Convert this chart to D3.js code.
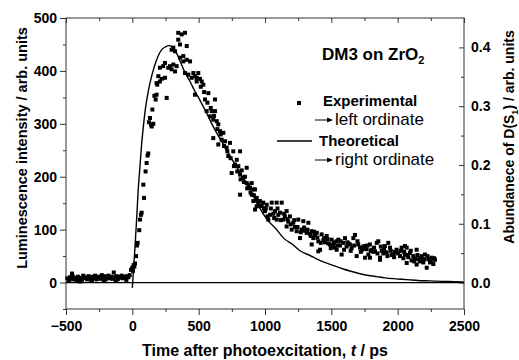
<!DOCTYPE html>
<html>
<head>
<meta charset="utf-8">
<script src="https://cdn.jsdelivr.net/npm/d3@7"></script>
<style>
  body { margin: 0; background: #fff; }
  svg { display: block; font-family: 'Liberation Sans', Arial, sans-serif; }
</style>
</head>
<body>
<div id="chart"></div>
<script>
// experimental luminescence [t (ps), intensity] -> left ordinate
const experimental = [
  [-490, 8], [-480, 5], [-475, 3], [-470, 10], [-460, 7], [-455, 17], [-450, 12], [-440, 6], [-430, 9], [-420, 4],
  [-410, 11], [-400, 7], [-395, 2], [-390, 9], [-380, 5], [-370, 13], [-360, 8], [-350, 10], [-340, 6], [-330, 12],
  [-320, 9], [-310, 4], [-305, 3], [-300, 11], [-290, 8], [-280, 13], [-270, 6], [-260, 9], [-250, 11], [-240, 7],
  [-230, 14], [-220, 9], [-215, 4], [-210, 12], [-200, 6], [-190, 10], [-180, 13], [-170, 8], [-160, 11], [-150, 7],
  [-140, 19], [-130, 10], [-125, 3], [-120, 12], [-110, 6], [-100, 11], [-90, 9], [-80, 13], [-70, 8], [-60, 11],
  [-50, 9], [-45, 5], [-40, 12], [-30, 10], [-20, 14], [-10, 24],
  [0, 28], [5, 22], [10, 33], [15, 30], [20, 36], [28, 50], [35, 70], [40, 75], [52, 99], [58, 119],
  [65, 128], [70, 132], [83, 185], [88, 160], [100, 210], [108, 226], [115, 240], [120, 244], [125, 303], [133, 311],
  [141, 298], [146, 295], [151, 327], [158, 300], [166, 353], [176, 346], [183, 355], [183, 377], [188, 374], [196, 390],
  [208, 380], [208, 406], [221, 385], [233, 409], [246, 387], [246, 415], [259, 349], [271, 406], [284, 409], [296, 403],
  [296, 440], [309, 412], [309, 444], [322, 399], [322, 437], [334, 409], [346, 459], [346, 472], [359, 450], [359, 425],
  [372, 469], [384, 428], [384, 418], [397, 472], [397, 396], [410, 447], [410, 421], [422, 393], [435, 418], [447, 387],
  [460, 396], [472, 390], [472, 355], [485, 380], [485, 387], [497, 396],
  [510, 385], [516, 370], [523, 380], [535, 374], [541, 360], [548, 346], [560, 324], [566, 340], [573, 358], [585, 314],
  [591, 330], [598, 324], [610, 308], [610, 273], [616, 315], [623, 346], [623, 324], [636, 305], [641, 290], [648, 299],
  [648, 261], [661, 286], [666, 280], [673, 270], [686, 283], [691, 258], [699, 267], [711, 255], [716, 248], [723, 239],
  [736, 264], [741, 235], [749, 207], [761, 248], [766, 220], [774, 223], [787, 232], [791, 210], [799, 220], [812, 248],
  [812, 204], [812, 166], [816, 195], [824, 212], [836, 198], [841, 190], [849, 200], [862, 217], [862, 188], [866, 178],
  [875, 185], [887, 179], [891, 170], [900, 166], [900, 188], [912, 176], [912, 154], [916, 165], [925, 176], [925, 138],
  [937, 160], [937, 144], [941, 155], [950, 150], [962, 154], [966, 145], [975, 145], [987, 151], [991, 140], [1000, 135],
  [1006, 140], [1013, 147], [1019, 125], [1025, 119], [1038, 128], [1044, 140], [1051, 151], [1063, 130], [1069, 122], [1075, 135],
  [1088, 151], [1088, 119], [1094, 140], [1100, 128], [1113, 132], [1119, 118], [1126, 151], [1138, 119], [1144, 130], [1150, 125],
  [1163, 135], [1163, 106], [1169, 120], [1175, 115], [1188, 125], [1194, 110], [1201, 100], [1213, 113], [1220, 118], [1226, 105],
  [1239, 97], [1245, 105], [1251, 119], [1264, 84], [1270, 95], [1276, 100], [1289, 116], [1295, 104], [1301, 98], [1314, 94],
  [1320, 100], [1327, 113], [1339, 92], [1345, 88], [1352, 97], [1352, 72], [1364, 84], [1370, 96], [1377, 90], [1390, 94],
  [1395, 85], [1402, 78], [1402, 59], [1415, 62], [1420, 75], [1427, 91], [1440, 80], [1446, 84], [1452, 76], [1465, 88],
  [1471, 82], [1477, 74], [1490, 72], [1496, 65], [1502, 81], [1515, 70], [1521, 76], [1527, 66], [1540, 78], [1540, 62],
  [1546, 70], [1553, 81], [1565, 70], [1571, 78], [1578, 53], [1590, 75], [1596, 62], [1603, 84], [1615, 68], [1621, 76],
  [1628, 74], [1640, 72], [1646, 60], [1653, 65], [1666, 84], [1672, 70], [1678, 90], [1691, 50], [1697, 78], [1703, 72],
  [1716, 66], [1722, 58], [1729, 61], [1741, 68], [1747, 64], [1754, 69], [1754, 47], [1766, 63], [1772, 70], [1779, 53],
  [1791, 72], [1791, 47], [1797, 60], [1804, 62], [1817, 58], [1822, 66], [1829, 59], [1842, 75], [1848, 55], [1854, 78],
  [1867, 47], [1867, 43], [1873, 68], [1880, 60], [1892, 55], [1898, 62], [1904, 69], [1917, 57], [1923, 50], [1929, 75],
  [1942, 66], [1948, 60], [1955, 52], [1967, 53], [1973, 48], [1980, 58], [1992, 62], [1998, 56], [2005, 55], [2018, 50],
  [2024, 60], [2030, 66], [2043, 46], [2049, 58], [2055, 69], [2055, 53], [2068, 37], [2068, 66], [2074, 52], [2080, 48],
  [2093, 56], [2099, 60], [2105, 42], [2118, 50], [2124, 40], [2130, 45], [2143, 34], [2143, 62], [2149, 52], [2155, 44],
  [2168, 40], [2174, 46], [2181, 50], [2193, 38], [2199, 44], [2206, 53], [2219, 28], [2225, 50], [2231, 44], [2244, 38],
  [2250, 40], [2256, 47], [2269, 35], [2275, 46], [2281, 43]
]

// theoretical abundance of D(S1) [t (ps), value] -> right ordinate
const theoretical = [
  [0, -0.009], [8, 0.02], [20, 0.06], [33, 0.11], [45, 0.16], [55, 0.19], [70, 0.235], [83, 0.265], [100, 0.298], [120, 0.325],
  [140, 0.346], [160, 0.363], [180, 0.377], [200, 0.388], [225, 0.397], [250, 0.401], [275, 0.403], [300, 0.401], [325, 0.394], [350, 0.382],
  [372, 0.37], [400, 0.356], [435, 0.342], [470, 0.326], [500, 0.314], [560, 0.288], [620, 0.261], [686, 0.235], [750, 0.21], [812, 0.187],
  [887, 0.158], [962, 0.126], [1013, 0.108], [1088, 0.09], [1138, 0.076], [1213, 0.064], [1264, 0.054], [1339, 0.046], [1400, 0.039], [1465, 0.033],
  [1530, 0.028], [1590, 0.023], [1650, 0.019], [1716, 0.015], [1780, 0.012], [1842, 0.01], [1905, 0.008], [1967, 0.0066], [2030, 0.0055], [2093, 0.0045],
  [2155, 0.0036], [2219, 0.003], [2280, 0.0025], [2344, 0.002], [2420, 0.0015], [2495, 0.001]
]

const xMajor = [-500, 0, 500, 1000, 1500, 2000, 2500]
const xMinor = [-250, 250, 750, 1250, 1750, 2250]
const leftMajor = [0, 100, 200, 300, 400, 500]
const leftMinor = [-50, 50, 150, 250, 350, 450]
const rightMajor = [0, 0.1, 0.2, 0.3, 0.4]
const rightMinor = [0.05, 0.15, 0.25, 0.35]

const width = 519
const height = 360
const margin = { top: 18, right: 55, bottom: 51, left: 66 }
const innerWidth = width - margin.left - margin.right
const innerHeight = height - margin.top - margin.bottom

const xScale = d3.scaleLinear().domain([-500, 2500]).range([0, innerWidth])
const yLeft = d3.scaleLinear().domain([-50, 500]).range([innerHeight, 0])
const yRight = d3.scaleLinear().domain([-0.045, 0.45]).range([innerHeight, 0])

const svg = d3.select('#chart').append('svg')
  .attr('width', width)
  .attr('height', height)

const g = svg.append('g')
  .attr('transform', 'translate(' + margin.left + ',' + margin.top + ')')

const axisColor = '#333'
const tickFont = '14px'

function styleAxis (sel) {
  sel.select('.domain').remove()
  sel.selectAll('line').attr('stroke', axisColor)
  // minor / mirrored axes carry no labels: drop the empty text nodes
  sel.selectAll('text').filter(function () { return this.textContent === '' }).remove()
  sel.selectAll('text')
    .attr('fill', '#000')
    .style('font-size', tickFont)
    .style('font-weight', 'bold')
    .style('font-family', "'Liberation Sans', Arial, sans-serif")
}

// bottom axis
g.append('g')
  .attr('transform', 'translate(0,' + innerHeight + ')')
  .call(d3.axisBottom(xScale).tickValues(xMajor).tickSize(6).tickPadding(6).tickFormat(d3.format('d')))
  .call(styleAxis)
g.append('g')
  .attr('transform', 'translate(0,' + innerHeight + ')')
  .call(d3.axisBottom(xScale).tickValues(xMinor).tickSize(3).tickFormat(''))
  .call(styleAxis)

// top axis, ticks inward
g.append('g')
  .call(d3.axisBottom(xScale).tickValues(xMajor).tickSize(5).tickFormat(''))
  .call(styleAxis)
g.append('g')
  .call(d3.axisBottom(xScale).tickValues(xMinor).tickSize(3).tickFormat(''))
  .call(styleAxis)

// left axis
g.append('g')
  .call(d3.axisLeft(yLeft).tickValues(leftMajor).tickSize(6).tickPadding(3))
  .call(styleAxis)
g.append('g')
  .call(d3.axisLeft(yLeft).tickValues(leftMinor).tickSize(3).tickFormat(''))
  .call(styleAxis)

// right axis, ticks inward, labels outside
g.append('g')
  .attr('transform', 'translate(' + innerWidth + ',0)')
  .call(d3.axisRight(yRight).tickValues(rightMajor).tickSizeInner(-5).tickSizeOuter(0).tickPadding(7).tickFormat(d3.format('.1f')))
  .call(styleAxis)
g.append('g')
  .attr('transform', 'translate(' + innerWidth + ',0)')
  .call(d3.axisRight(yRight).tickValues(rightMinor).tickSizeInner(-3).tickSizeOuter(0).tickFormat(''))
  .call(styleAxis)

// frame
g.append('rect')
  .attr('width', innerWidth)
  .attr('height', innerHeight)
  .attr('fill', 'none')
  .attr('stroke', axisColor)
  .attr('stroke-width', 1)

// zero line
g.append('line')
  .attr('x1', 0)
  .attr('x2', innerWidth)
  .attr('y1', yLeft(0))
  .attr('y2', yLeft(0))
  .attr('stroke', '#000')
  .attr('stroke-width', 1.2)

// theoretical curve
const line = d3.line()
  .x(d => xScale(d[0]))
  .y(d => yRight(d[1]))
  .curve(d3.curveMonotoneX)

g.append('path')
  .datum(theoretical)
  .attr('d', line)
  .attr('fill', 'none')
  .attr('stroke', '#000')
  .attr('stroke-width', 1.4)

// experimental points
const sq = 4
g.selectAll('.pt')
  .data(experimental)
  .enter().append('rect')
  .attr('class', 'pt')
  .attr('x', d => xScale(d[0]) - sq / 2)
  .attr('y', d => yLeft(d[1]) - sq / 2)
  .attr('width', sq)
  .attr('height', sq)
  .attr('fill', '#000')

// axis titles
svg.append('text')
  .attr('transform', 'translate(27,148) rotate(-90)')
  .attr('text-anchor', 'middle')
  .style('font-size', '14.5px')
  .style('font-weight', 'bold')
  .text('Luminescence intensity / arb. units')

const xt = svg.append('text')
  .attr('x', 265)
  .attr('y', 356)
  .attr('text-anchor', 'middle')
  .style('font-size', '16px')
  .style('font-weight', 'bold')
xt.append('tspan').text('Time after photoexcitation, ')
xt.append('tspan').style('font-style', 'italic').text('t')
xt.append('tspan').text(' / ps')

const rt = svg.append('text')
  .attr('transform', 'translate(514,137) rotate(-90)')
  .attr('text-anchor', 'middle')
  .style('font-size', '14px')
  .style('font-weight', 'bold')
rt.append('tspan').text('Abundanece of D(S')
rt.append('tspan').attr('dy', 4).style('font-size', '9px').text('1')
rt.append('tspan').attr('dy', -4).text(') / arb. units')

// annotation
const ann = svg.append('text')
  .attr('x', 322)
  .attr('y', 60)
  .style('font-size', '17px')
  .style('font-weight', 'bold')
ann.append('tspan').text('DM3 on ZrO')
ann.append('tspan').attr('dy', 4).style('font-size', '11px').text('2')

// legend
const legend = svg.append('g')
legend.append('rect')
  .attr('x', 297).attr('y', 101).attr('width', sq).attr('height', sq).attr('fill', '#000')
legend.append('text')
  .attr('x', 323).attr('y', 106)
  .style('font-size', '15px').style('font-weight', 'bold')
  .text('Experimental')
legend.append('line')
  .attr('x1', 277).attr('x2', 312).attr('y1', 141).attr('y2', 141)
  .attr('stroke', '#000').attr('stroke-width', 1.4)
legend.append('text')
  .attr('x', 319).attr('y', 146)
  .style('font-size', '15px').style('font-weight', 'bold')
  .text('Theoretical')

function arrow (y, label) {
  legend.append('line')
    .attr('x1', 315).attr('x2', 328).attr('y1', y).attr('y2', y)
    .attr('stroke', '#000').attr('stroke-width', 1)
  legend.append('path')
    .attr('d', 'M327,' + (y - 2.5) + 'L333,' + y + 'L327,' + (y + 2.5) + 'Z')
    .attr('fill', '#000')
  legend.append('text')
    .attr('x', 335).attr('y', y + 5)
    .style('font-size', '17px')
    .text(label)
}
arrow(120, 'left ordinate')
arrow(160, 'right ordinate')
</script>
</body>
</html>
